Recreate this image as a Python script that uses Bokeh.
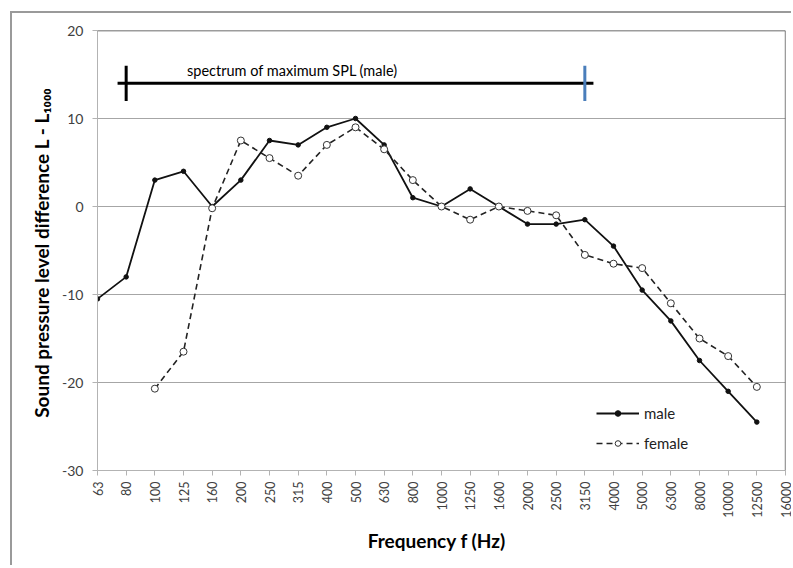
import math
from bokeh.plotting import figure
from bokeh.models import Range1d, FixedTicker, Label, Span
from bokeh.embed import file_html
from bokeh.resources import INLINE

# ---------------- data ----------------
freq_labels = ["63", "80", "100", "125", "160", "200", "250", "315", "400", "500",
               "630", "800", "1000", "1250", "1600", "2000", "2500", "3150", "4000",
               "5000", "6300", "8000", "10000", "12500", "16000"]

male_freqs = ["63", "80", "100", "125", "160", "200", "250", "315", "400", "500",
              "630", "800", "1000", "1250", "1600", "2000", "2500", "3150", "4000",
              "5000", "6300", "8000", "10000", "12500"]
male_values = [-10.5, -8, 3, 4, 0, 3, 7.5, 7, 9, 10,
               7, 1, 0, 2, 0, -2, -2, -1.5, -4.5,
               -9.5, -13, -17.5, -21, -24.5]

female_freqs = ["100", "125", "160", "200", "250", "315", "400", "500",
                "630", "800", "1000", "1250", "1600", "2000", "2500", "3150", "4000",
                "5000", "6300", "8000", "10000", "12500"]
female_values = [-20.7, -16.5, -0.2, 7.5, 5.5, 3.5, 7, 9,
                 6.5, 3, 0, -1.5, 0, -0.5, -1, -5.5, -6.5,
                 -7, -11, -15, -17, -20.5]

y_ticks = [-30, -20, -10, 0, 10, 20]
y_tick_labels = ["-30", "-20", "-10", "0", "10", "20"]

x_title = "Frequency  f  (Hz)"
y_title = "Sound pressure level difference  L - L\u2081\u2080\u2080\u2080"

band_text = "spectrum of maximum SPL (male)"
band_from = "80"
band_to = "3150"
band_level = 14

FONT = "Lato"

# ---------------- figure ----------------
p = figure(width=781, height=554,
           x_range=Range1d(0, len(freq_labels) - 1), y_range=Range1d(-30, 20),
           output_backend="svg", toolbar_location=None,
           min_border_left=85, min_border_right=8, min_border_top=17, min_border_bottom=97,
           background_fill_color="white", border_fill_color="white")
p.margin = (11, 0, 0, 10)
p.styles = {"border-left": "2px solid #9a9a9a", "border-top": "2px solid #9a9a9a"}
p.outline_line_color = None

p.xgrid.visible = False
p.ygrid.grid_line_color = "#a6a6a6"
p.ygrid.grid_line_width = 1

p.yaxis.ticker = FixedTicker(ticks=y_ticks)
p.yaxis.major_label_overrides = dict(zip(y_ticks, y_tick_labels))
p.xaxis.ticker = FixedTicker(ticks=list(range(len(freq_labels))))
p.xaxis.major_label_overrides = {i: lab for i, lab in enumerate(freq_labels)}
p.xaxis.major_label_orientation = math.pi / 2

for ax in (p.xaxis, p.yaxis):
    ax.axis_line_color = "#b3b3b3"
    ax.major_tick_line_color = "#b3b3b3"
    ax.minor_tick_line_color = None
    ax.major_tick_in = 0
    ax.major_tick_out = 5
    ax.major_label_text_font = FONT
    ax.major_label_text_font_size = "12.5px"
    ax.major_label_text_color = "#404040"
    ax.axis_label_text_font = FONT
    ax.axis_label_text_font_style = "bold"
    ax.axis_label_text_font_size = "19px"
    ax.axis_label_text_color = "black"
p.yaxis.major_label_text_font_size = "14px"
p.yaxis.major_label_standoff = 9
p.xaxis.major_label_standoff = 6
p.xaxis.axis_label = x_title
p.yaxis.axis_label = y_title
p.xaxis.axis_label_standoff = 8
p.yaxis.axis_label_standoff = 6

p.add_layout(Span(location=20, dimension="width", line_color="#3a3a3a", line_width=1.3))
p.add_layout(Span(location=len(freq_labels) - 1, dimension="height",
                  line_color="#3a3a3a", line_width=1.3))

# ---------------- series ----------------
male_x = [freq_labels.index(f) for f in male_freqs]
female_x = [freq_labels.index(f) for f in female_freqs]

p.line(male_x, male_values, line_color="#111111", line_width=1.8, legend_label="male")
p.scatter(male_x, male_values, size=4.5, fill_color="#111111", line_color="#111111",
          legend_label="male")
p.line(female_x, female_values, line_color="#222222", line_width=1.6, line_dash="6 4",
       legend_label="female")
p.scatter(female_x, female_values, size=7, fill_color="white", line_color="#333333",
          line_width=1, legend_label="female")

# ---------------- band ----------------
i0 = freq_labels.index(band_from)
i1 = freq_labels.index(band_to)
over = 0.3
p.segment(x0=[i0 - over], y0=[band_level], x1=[i1 + over], y1=[band_level],
          line_color="black", line_width=3)
p.segment(x0=[i0], y0=[band_level - 2], x1=[i0], y1=[band_level + 2],
          line_color="black", line_width=3)
p.segment(x0=[i1], y0=[band_level - 2], x1=[i1], y1=[band_level + 2],
          line_color="#4a7ebb", line_width=3)
p.add_layout(Label(x=6.8, y=15.5, text=band_text, text_align="center",
                   text_baseline="alphabetic", text_font=FONT,
                   text_font_size="14.5px", text_color="black"))

# ---------------- legend ----------------
lg = p.legend[0]
lg.location = (499, 17)
lg.border_line_color = None
lg.background_fill_alpha = 0
lg.padding = 0
lg.margin = 0
lg.spacing = 10
lg.glyph_width = 43
lg.glyph_height = 14
lg.label_height = 20
lg.label_standoff = 5
lg.label_text_font = FONT
lg.label_text_font_size = "15px"
lg.label_text_color = "#222222"

open("out.html", "w").write(file_html(p, INLINE))
